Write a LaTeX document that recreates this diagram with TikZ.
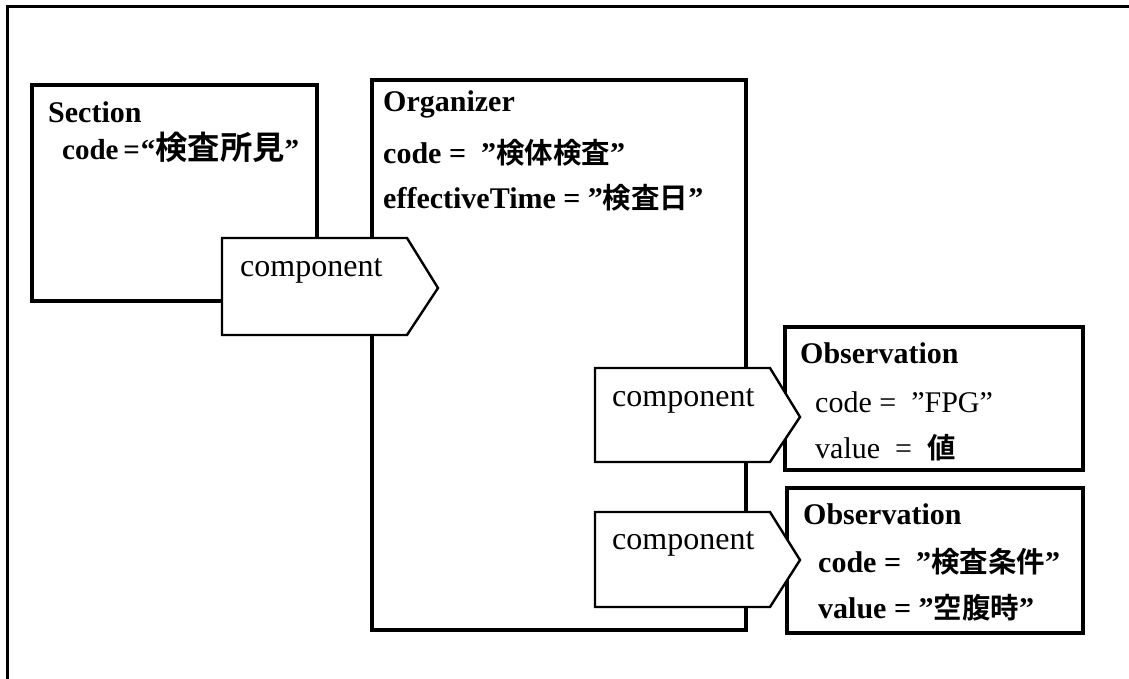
\documentclass[tikz,border=0pt]{standalone}
\usepackage{fontspec}
\setmainfont{Liberation Serif}
\newfontfamily\cjk{Noto Sans CJK JP}[BoldFont={Noto Sans CJK JP Bold},Scale=0.95]
\newcommand\J[1]{{\cjk\bfseries #1}}
\begin{document}
\begin{tikzpicture}[x=1pt,y=-1pt,
  box/.style={draw=black,line width=3.8pt,fill=white},
  tag/.style={draw=black,line width=2.4pt,fill=white,line join=miter},
  txt/.style={anchor=base west,inner sep=0pt,font=\fontsize{30}{34}\selectfont},
  tagtxt/.style={anchor=base west,inner sep=0pt,font=\fontsize{32}{36}\selectfont},
  frame/.style={line width=3pt}]
\useasboundingbox (0,0) rectangle (1129,679);
% outer frame (only top and left visible)
\coordinate (ftl) at (7,7);
\coordinate (ftr) at (1129,7);
\coordinate (fbl) at (7,679);
\draw[frame] (ftr) -- (ftl) -- (fbl);
% boxes
\draw[box] (32,85) coordinate (secA) rectangle (317,301) coordinate (secB);
\draw[box] (372,80) coordinate (orgA) rectangle (746,630) coordinate (orgB);
\draw[box] (785,327) coordinate (ob1A) rectangle (1083,470) coordinate (ob1B);
\draw[box] (787,488) coordinate (ob2A) rectangle (1083,633) coordinate (ob2B);
% texts in boxes
\node[txt] (secT) at (48,123) {\textbf{Section}};
\node[txt,font=\fontsize{29}{33}\selectfont] (secC) at (62,160)
  {\textbf{code\,=\hspace{1pt}“{\fontsize{34}{34}\selectfont\J{検査所見}}”}};
\node[txt] (orgT) at (383,112) {\textbf{Organizer}};
\node[txt] (orgC) at (383,164) {\textbf{code = \ ”\J{検体検査}”}};
\node[txt] (orgE) at (383,208) {\textbf{effectiveTime = ”\J{検査日}”}};
\node[txt] (ob1T) at (800,363) {\textbf{Observation}};
\node[txt] (ob1C) at (815,412) {code = \ ”FPG”};
\node[txt] (ob1V) at (815,458) {value \ = \ \J{値}};
\node[txt] (ob2T) at (803,524) {\textbf{Observation}};
\node[txt] (ob2C) at (818,572) {\textbf{code = \ ”\J{検査条件}”}};
\node[txt] (ob2V) at (818,618) {\textbf{value = ”\J{空腹時}”}};
% component tags
\draw[tag] (222,238) -- (407,238) -- (438,288) -- (407,335) -- (222,335) -- cycle;
\node[tagtxt] (c1) at (240,276) {component};
\draw[tag] (595,368) -- (770,368) -- (800,417) -- (770,462) -- (595,462) -- cycle;
\node[tagtxt] (c2) at (612,406) {component};
\draw[tag] (595,512) -- (770,512) -- (800,560) -- (770,607) -- (595,607) -- cycle;
\node[tagtxt] (c3) at (612,549) {component};
\end{tikzpicture}
\end{document}
